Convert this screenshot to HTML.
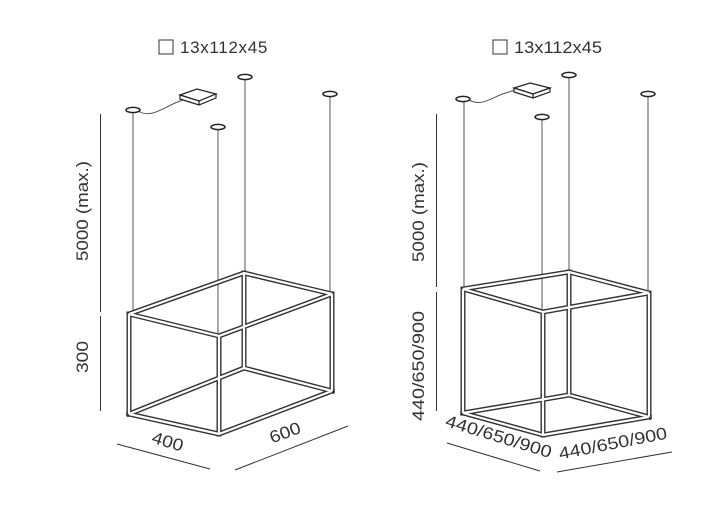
<!DOCTYPE html>
<html><head><meta charset="utf-8"><style>
html,body{margin:0;padding:0;background:#fff;}
svg{display:block;}
text{font-family:"Liberation Sans",sans-serif;fill:#333;}
</style></head><body>
<svg width="702" height="522" viewBox="0 0 702 522" xmlns="http://www.w3.org/2000/svg">
<defs>
<g id="canopy"><ellipse cx="0" cy="0" rx="7" ry="2.6" fill="#fff" stroke="#222" stroke-width="1.5"/></g>
</defs>

<!-- ===== LEFT ===== -->
<rect x="159" y="40" width="14" height="14" fill="#fff" stroke="#333" stroke-width="1"/>
<text x="180" y="53" font-size="16.5" letter-spacing="0.6" textLength="88" lengthAdjust="spacingAndGlyphs">13x112x45</text>

<g stroke="#555" stroke-width="1" fill="none">
<line x1="133" y1="111" x2="133" y2="316"/>
<line x1="245" y1="78" x2="245" y2="276"/>
<line x1="218" y1="128" x2="218" y2="338"/>
<line x1="330" y1="95" x2="330" y2="295"/>
<path d="M138,111 C150,118 160,110 175,103 C182,100 186,99 190,98"/>
</g>
<g stroke="#222" stroke-width="1.2" fill="#fff">
<path d="M180,95 L197,89 L216,94 L199,101 Z"/>
<path d="M180,95 L180,99 L199,105 L216,98 L216,94 L199,101 Z"/>
<line x1="199" y1="101" x2="199" y2="105"/>
</g>
<use href="#canopy" x="133" y="110"/>
<use href="#canopy" x="245" y="77"/>
<use href="#canopy" x="218" y="127"/>
<use href="#canopy" x="330" y="94"/>

<g fill="none" stroke-linejoin="bevel" stroke-linecap="square">
<g stroke="#333" stroke-width="5">
<path d="M244,273 L244,368 M129,414 L244,368 L332,391"/>
<path d="M129,314 L244,273 L332,294 L219,336 Z M129,414 L219,434 L332,391 M129,314 L129,414 M219,336 L219,434 M332,294 L332,391"/>
</g>
<g stroke="#fff" stroke-width="2.2" stroke-linecap="butt">
<path d="M244,273 L244,368 M129,414 L244,368 L332,391"/>
<path d="M129,314 L244,273 L332,294 L219,336 Z M129,414 L219,434 L332,391 M129,314 L129,414 M219,336 L219,434 M332,294 L332,391"/>
</g>
</g>

<g stroke="#333" stroke-width="1">
<line x1="100.5" y1="114" x2="100.5" y2="312"/>
<line x1="100.5" y1="316" x2="100.5" y2="411"/>
<line x1="117" y1="444" x2="210" y2="469"/>
<line x1="235" y1="470" x2="348" y2="426"/>
</g>
<text font-size="17" transform="translate(88,211) rotate(-90)" text-anchor="middle" textLength="100" lengthAdjust="spacingAndGlyphs">5000 (max.)</text>
<text font-size="17" transform="translate(88,357) rotate(-90)" text-anchor="middle" textLength="32" lengthAdjust="spacingAndGlyphs">300</text>
<text font-size="17" transform="translate(166,447) rotate(17)" text-anchor="middle" textLength="32" lengthAdjust="spacingAndGlyphs">400</text>
<text font-size="17" transform="translate(287,438) rotate(-20)" text-anchor="middle" textLength="32" lengthAdjust="spacingAndGlyphs">600</text>

<!-- ===== RIGHT ===== -->
<rect x="493" y="40" width="14" height="14" fill="#fff" stroke="#333" stroke-width="1"/>
<text x="514" y="53" font-size="16.5" textLength="88" lengthAdjust="spacingAndGlyphs">13x112x45</text>

<g stroke="#555" stroke-width="1" fill="none">
<line x1="464" y1="100" x2="464" y2="291"/>
<line x1="569" y1="76" x2="569" y2="274"/>
<line x1="542" y1="118" x2="542" y2="314"/>
<line x1="648" y1="94" x2="648" y2="295"/>
<path d="M469,100 C480,106 488,100 500,95 C508,92 512,91 516,90"/>
</g>
<g stroke="#222" stroke-width="1.2" fill="#fff">
<path d="M514,88 L530,83 L550,88 L533,94 Z"/>
<path d="M514,88 L514,92 L533,98 L550,92 L550,88 L533,94 Z"/>
<line x1="533" y1="94" x2="533" y2="98"/>
</g>
<use href="#canopy" x="463" y="99"/>
<use href="#canopy" x="569" y="75"/>
<use href="#canopy" x="542" y="117"/>
<use href="#canopy" x="648" y="94"/>

<g fill="none" stroke-linejoin="bevel" stroke-linecap="square">
<g stroke="#333" stroke-width="5">
<path d="M569,272 L569,395 M463,413 L569,395 L649,417"/>
<path d="M463,289 L569,272 L649,293 L543,312 Z M463,413 L543,435 L649,417 M463,289 L463,413 M543,312 L543,435 M649,293 L649,417"/>
</g>
<g stroke="#fff" stroke-width="2.2" stroke-linecap="butt">
<path d="M569,272 L569,395 M463,413 L569,395 L649,417"/>
<path d="M463,289 L569,272 L649,293 L543,312 Z M463,413 L543,435 L649,417 M463,289 L463,413 M543,312 L543,435 M649,293 L649,417"/>
</g>
</g>

<g stroke="#333" stroke-width="1">
<line x1="436.5" y1="114" x2="436.5" y2="287"/>
<line x1="436.5" y1="292" x2="436.5" y2="411"/>
<line x1="447" y1="443" x2="540" y2="471"/>
<line x1="557" y1="472" x2="672" y2="452"/>
</g>
<text font-size="17" transform="translate(424,212) rotate(-90)" text-anchor="middle" textLength="100" lengthAdjust="spacingAndGlyphs">5000 (max.)</text>
<text font-size="17" transform="translate(424,366) rotate(-90)" text-anchor="middle" textLength="110" lengthAdjust="spacingAndGlyphs">440/650/900</text>
<text font-size="17" transform="translate(497,442) rotate(17)" text-anchor="middle" textLength="110" lengthAdjust="spacingAndGlyphs">440/650/900</text>
<text font-size="17" transform="translate(614,449) rotate(-11)" text-anchor="middle" textLength="110" lengthAdjust="spacingAndGlyphs">440/650/900</text>
</svg>
</body></html>
